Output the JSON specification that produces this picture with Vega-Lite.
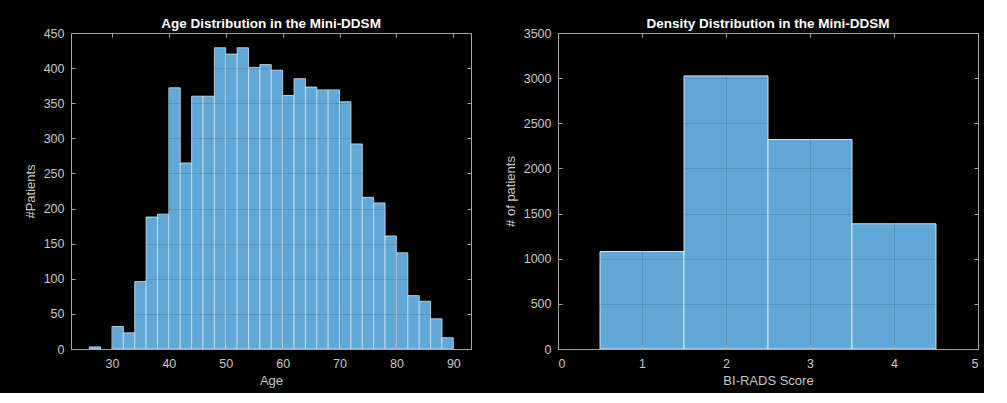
{
  "$schema": "https://vega.github.io/schema/vega-lite/v6.json",
  "background": "black",
  "padding": {"left": 24, "top": 16, "right": 5, "bottom": 5},
  "spacing": 32,
  "config": {
    "view": {"stroke": null},
    "font": "Liberation Sans",
    "axis": {
      "domainColor": "#a6a6a6",
      "tickColor": "#a6a6a6",
      "labelColor": "#c8c8c8",
      "titleColor": "#c8c8c8",
      "labelFont": "Liberation Sans",
      "titleFont": "Liberation Sans",
      "labelFontSize": 12.5,
      "titleFontSize": 13,
      "titleFontWeight": "normal",
      "tickSize": -4,
      "gridColor": "#000000",
      "gridOpacity": 0.12,
      "domainWidth": 1,
      "tickWidth": 1
    },
    "title": {"color": "#ffffff", "fontSize": 13.5, "fontWeight": "bold", "font": "Liberation Sans", "offset": -3}
  },
  "hconcat": [
    {
      "width": 400,
      "height": 316,
      "title": "Age Distribution in the Mini-DDSM",
      "data": {"values": [
        {"bin_start": 26, "bin_end": 28, "count": 3},
        {"bin_start": 30, "bin_end": 32, "count": 32},
        {"bin_start": 32, "bin_end": 34, "count": 23},
        {"bin_start": 34, "bin_end": 36, "count": 96},
        {"bin_start": 36, "bin_end": 38, "count": 188},
        {"bin_start": 38, "bin_end": 40, "count": 192},
        {"bin_start": 40, "bin_end": 42, "count": 372},
        {"bin_start": 42, "bin_end": 44, "count": 265},
        {"bin_start": 44, "bin_end": 46, "count": 360},
        {"bin_start": 46, "bin_end": 48, "count": 360},
        {"bin_start": 48, "bin_end": 50, "count": 429},
        {"bin_start": 50, "bin_end": 52, "count": 420},
        {"bin_start": 52, "bin_end": 54, "count": 429},
        {"bin_start": 54, "bin_end": 56, "count": 401},
        {"bin_start": 56, "bin_end": 58, "count": 405},
        {"bin_start": 58, "bin_end": 60, "count": 397},
        {"bin_start": 60, "bin_end": 62, "count": 361},
        {"bin_start": 62, "bin_end": 64, "count": 385},
        {"bin_start": 64, "bin_end": 66, "count": 373},
        {"bin_start": 66, "bin_end": 68, "count": 369},
        {"bin_start": 68, "bin_end": 70, "count": 369},
        {"bin_start": 70, "bin_end": 72, "count": 352},
        {"bin_start": 72, "bin_end": 74, "count": 292},
        {"bin_start": 74, "bin_end": 76, "count": 216},
        {"bin_start": 76, "bin_end": 78, "count": 208},
        {"bin_start": 78, "bin_end": 80, "count": 161},
        {"bin_start": 80, "bin_end": 82, "count": 137},
        {"bin_start": 82, "bin_end": 84, "count": 76},
        {"bin_start": 84, "bin_end": 86, "count": 68},
        {"bin_start": 86, "bin_end": 88, "count": 43},
        {"bin_start": 88, "bin_end": 90, "count": 16}
      ]},
      "layer": [
        {
          "mark": {"type": "bar", "color": "#62a8d7", "stroke": "#cfe7f7", "strokeWidth": 1, "strokeOpacity": 0.8},
          "encoding": {
            "x": {"field": "bin_start", "type": "quantitative",
                  "scale": {"domain": [22.8, 93.1], "nice": false, "zero": false},
                  "axis": {"title": "Age", "values": [30, 40, 50, 60, 70, 80, 90], "grid": true, "zindex": 1, "labelPadding": 12, "titlePadding": 5}},
            "x2": {"field": "bin_end"},
            "y": {"field": "count", "type": "quantitative",
                  "scale": {"domain": [0, 450], "nice": false},
                  "axis": {"title": "#Patients", "format": "d", "values": [0, 50, 100, 150, 200, 250, 300, 350, 400, 450], "grid": true, "zindex": 1, "labelPadding": 11, "titlePadding": 6}},
            "y2": {"datum": 0}
          }
        },
        {
          "mark": {"type": "bar", "opacity": 0},
          "encoding": {
            "x": {"field": "bin_start", "type": "quantitative",
                  "axis": {"orient": "top", "title": null, "labels": false, "values": [30, 40, 50, 60, 70, 80, 90], "grid": false, "zindex": 1}},
            "x2": {"field": "bin_end"},
            "y": {"field": "count", "type": "quantitative",
                  "axis": {"orient": "right", "title": null, "labels": false, "values": [0, 50, 100, 150, 200, 250, 300, 350, 400, 450], "grid": false, "zindex": 1}},
            "y2": {"datum": 0}
          }
        }
      ],
      "resolve": {"axis": {"x": "independent", "y": "independent"}}
    },
    {
      "width": 420,
      "height": 316,
      "title": "Density Distribution in the Mini-DDSM",
      "data": {"values": [
        {"score": 1, "lo": 0.5, "hi": 1.5, "count": 1080},
        {"score": 2, "lo": 1.5, "hi": 2.5, "count": 3025},
        {"score": 3, "lo": 2.5, "hi": 3.5, "count": 2320},
        {"score": 4, "lo": 3.5, "hi": 4.5, "count": 1387}
      ]},
      "layer": [
        {
          "mark": {"type": "bar", "color": "#62a8d7", "stroke": "#e6f2fb", "strokeWidth": 1, "strokeOpacity": 0.9},
          "encoding": {
            "x": {"field": "lo", "type": "quantitative",
                  "scale": {"domain": [0, 5], "nice": false, "zero": false},
                  "axis": {"title": "BI-RADS Score", "values": [0, 1, 2, 3, 4, 5], "grid": true, "zindex": 1, "labelPadding": 12, "titlePadding": 5}},
            "x2": {"field": "hi"},
            "y": {"field": "count", "type": "quantitative",
                  "scale": {"domain": [0, 3500], "nice": false},
                  "axis": {"title": "# of patients", "format": "d", "values": [0, 500, 1000, 1500, 2000, 2500, 3000, 3500], "grid": true, "zindex": 1, "labelPadding": 11, "titlePadding": 6}},
            "y2": {"datum": 0}
          }
        },
        {
          "mark": {"type": "bar", "opacity": 0},
          "encoding": {
            "x": {"field": "lo", "type": "quantitative",
                  "axis": {"orient": "top", "title": null, "labels": false, "values": [0, 1, 2, 3, 4, 5], "grid": false, "zindex": 1}},
            "x2": {"field": "hi"},
            "y": {"field": "count", "type": "quantitative",
                  "axis": {"orient": "right", "title": null, "labels": false, "values": [0, 500, 1000, 1500, 2000, 2500, 3000, 3500], "grid": false, "zindex": 1}},
            "y2": {"datum": 0}
          }
        }
      ],
      "resolve": {"axis": {"x": "independent", "y": "independent"}}
    }
  ]
}
